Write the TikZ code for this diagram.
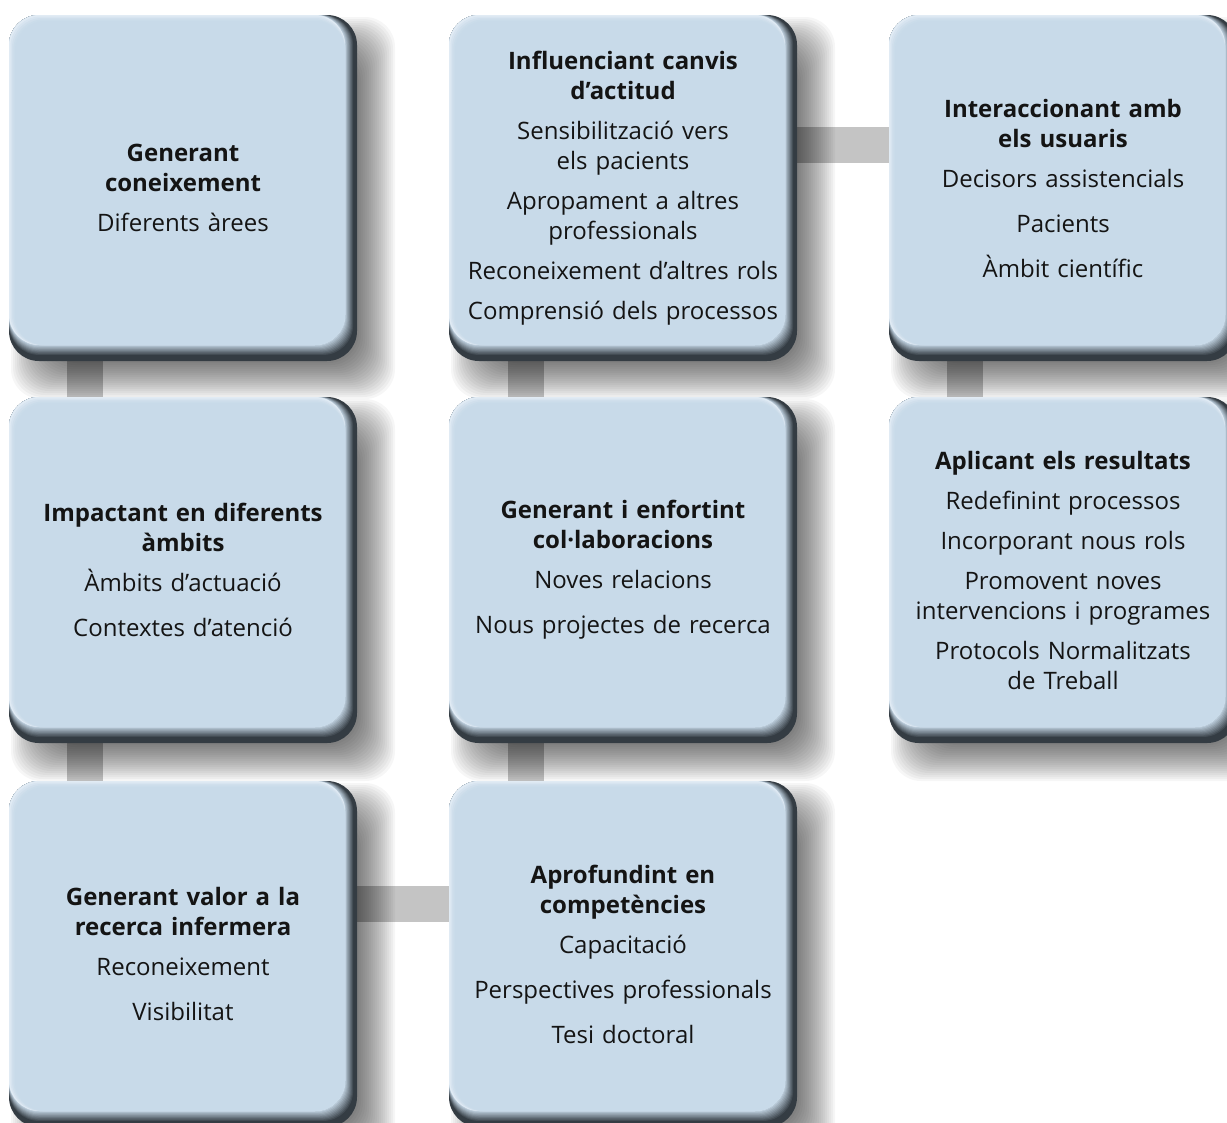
\documentclass[tikz,border=0pt]{standalone}
\usepackage{fontspec}
\setmainfont{Open Sans}
\usetikzlibrary{calc}

\definecolor{cardfill}{HTML}{C8DAE9}
\definecolor{cardedge}{HTML}{343C43}
\definecolor{cardhi}{HTML}{E1EBF4}
\definecolor{barcol}{HTML}{C4C4C4}
\definecolor{textcol}{HTML}{141414}

\pgfdeclarelayer{bg}
\pgfdeclarelayer{shade}
\pgfsetlayers{bg,shade,main}

\tikzset{
  cardtext/.style={inner sep=0pt, text width=261pt, minimum width=261pt,
    minimum height=259.5pt, align=center, text=textcol,
    font=\fontsize{18pt}{22.5pt}\selectfont},
  bar/.style={draw=barcol, line width=27pt},
}

% gaps between the lines of a card
\newcommand\tgap{\\[7.5pt]}
\newcommand\igap{\\[11.25pt]}

% one card: name, left, top, text
\newcommand\card[4]{%
  \begin{scope}[shift={(#2,#3)}]
    % soft shadow
    \begin{pgfonlayer}{shade}
      \foreach \e in {18,16,...,-18}
        \fill[black, opacity=.036, rounded corners=22.5pt]
          ({20-(\e)},{20-(\e)}) rectangle ({368+(\e)},{366+(\e)});
    \end{pgfonlayer}
    % dark bevel at the bottom and right
    \fill[cardedge, rounded corners=22.5pt] (0,0) rectangle (348,346);
    \foreach \i in {1,...,10}{
      \pgfmathtruncatemacro\pc{10*\i}
      \fill[cardfill!\pc!cardedge, rounded corners=22.5pt]
        (0,0) rectangle ({345-0.9*\i},{341-1.1*\i});
    }
    % light top and left edge
    \foreach \j/\pc in {0/0,1/40,2/70,3/90,4/100}
      \fill[cardfill!\pc!cardhi, rounded corners=22.5pt]
        ({1.5*\j},{1.5*\j}) rectangle (336,330);
    \node[cardtext] (#1) at (174,173) {#4};
  \end{scope}}

\begin{document}
\begin{tikzpicture}[x=0.75pt, y=-0.75pt]
\useasboundingbox (0,0) rectangle (1227,1122);

% first row
\card{gen}{9}{15}{{\bfseries Generant\\coneixement}\tgap
  Diferents àrees}
\card{inf}{449}{15}{{\bfseries Influenciant canvis\\d’actitud}\tgap
  Sensibilització vers\\els pacients\tgap
  Apropament a altres\\professionals\tgap
  Reconeixement d’altres rols\tgap
  Comprensió dels processos}
\card{inter}{889}{15}{{\bfseries Interaccionant amb\\els usuaris}\tgap
  Decisors assistencials\igap
  Pacients\igap
  Àmbit científic}

% second row
\card{imp}{9}{397}{{\bfseries Impactant en diferents\\àmbits}\tgap
  Àmbits d’actuació\igap
  Contextes d’atenció}
\card{col}{449}{397}{{\bfseries Generant i enfortint\\col·laboracions}\tgap
  Noves relacions\igap
  Nous projectes de recerca}
\card{apl}{889}{397}{{\bfseries Aplicant els resultats}\tgap
  Redefinint processos\tgap
  Incorporant nous rols\tgap
  Promovent noves\\intervencions i programes\tgap
  Protocols Normalitzats\\de Treball}

% third row
\card{val}{9}{781}{{\bfseries Generant valor a la\\recerca infermera}\tgap
  Reconeixement\igap
  Visibilitat}
\card{apr}{449}{781}{{\bfseries Aprofundint en\\competències}\tgap
  Capacitació\igap
  Perspectives professionals\igap
  Tesi doctoral}

% grey links under the cards
\begin{pgfonlayer}{bg}
  \draw[bar] ($(gen.south west)+(76,-20)$) -- ($(imp.north west)+(76,20)$);
  \draw[bar] ($(imp.south west)+(76,-20)$) -- ($(val.north west)+(76,20)$);
  \draw[bar] ($(inf.south west)+(77,-20)$) -- ($(col.north west)+(77,20)$);
  \draw[bar] ($(col.south west)+(77,-20)$) -- ($(apr.north west)+(77,20)$);
  \draw[bar] ($(inter.south west)+(76,-20)$) -- ($(apl.north west)+(76,20)$);
  \draw[bar] ($(inf.north east)+(-20,130)$) -- ($(inter.north west)+(20,130)$);
  \draw[bar] ($(val.north east)+(-20,123)$) -- ($(apr.north west)+(20,123)$);
\end{pgfonlayer}
\end{tikzpicture}
\end{document}
